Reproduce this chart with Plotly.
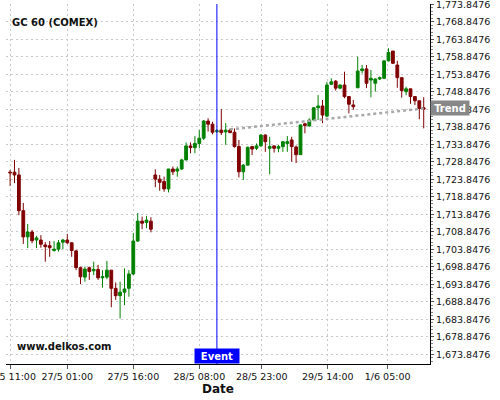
import plotly.graph_objects as go

# ---------------------------------------------------------------------------
# Hourly candles GC 60 (COMEX), in session order
# ---------------------------------------------------------------------------

opens = [1725.9, 1725.9, 1725.1, 1714.9, 1707.4, 1708.8, 1706.5, 1706.5, 1705.1, 1704.9,
         1703.5, 1703.9, 1705.9, 1706.5, 1705.7, 1703.4, 1698.6, 1695.9, 1698.6, 1697.7,
         1698.1, 1695.7, 1695.9, 1697.9, 1692.7, 1690.6, 1691.6, 1692.7, 1696.8, 1706.2,
         1711.9, 1711.5, 1711.9, 1725.1, 1723.9, 1723.2, 1721.1, 1726.8, 1726.2, 1726.8,
         1729.4, 1733.4, 1732.9, 1734.1, 1735.6, 1740.5, 1739.6, 1737.5, 1737.9, 1737.4,
         1737.9, 1737.3, 1733.2, 1726.0, 1727.9, 1733.2, 1732.7, 1733.4, 1736.5, 1732.7,
         1733.4, 1732.7, 1733.2, 1734.1, 1735.1, 1733.1, 1730.9, 1739.7, 1739.1, 1740.8,
         1744.3, 1744.8, 1741.9, 1751.0, 1751.9, 1749.9, 1750.8, 1747.5, 1745.1, 1750.0,
         1754.9, 1755.4, 1752.2, 1751.3, 1752.5, 1752.7, 1757.7, 1760.5, 1756.5, 1752.9,
         1748.9, 1749.7, 1747.5, 1746.3, 1744.3]

highs = [1726.5, 1729.4, 1727.1, 1717.1, 1711.1, 1709.4, 1707.7, 1707.9, 1705.9, 1706.2,
         1706.2, 1706.5, 1706.8, 1708.2, 1705.9, 1703.7, 1698.9, 1698.9, 1698.9, 1700.3,
         1699.4, 1697.9, 1700.5, 1697.9, 1694.4, 1694.6, 1698.4, 1697.9, 1708.5, 1714.2,
         1713.2, 1713.4, 1713.0, 1726.7, 1725.1, 1724.6, 1726.8, 1727.5, 1727.5, 1729.7,
         1734.4, 1734.4, 1736.2, 1737.9, 1740.8, 1741.3, 1740.3, 1738.2, 1743.9, 1739.9,
         1738.4, 1738.4, 1735.1, 1728.2, 1733.2, 1733.2, 1734.1, 1736.7, 1736.7, 1736.0,
         1733.5, 1733.7, 1734.8, 1736.2, 1736.0, 1733.5, 1739.4, 1740.0, 1741.3, 1744.4,
         1747.9, 1746.5, 1751.7, 1752.7, 1752.2, 1751.0, 1754.6, 1747.5, 1746.5, 1758.9,
         1756.5, 1756.5, 1755.1, 1752.7, 1753.2, 1757.7, 1761.3, 1760.5, 1757.7, 1752.9,
         1750.3, 1749.7, 1747.5, 1746.3, 1747.3]

lows = [1722.0, 1722.8, 1713.6, 1705.4, 1704.2, 1705.6, 1704.2, 1704.3, 1700.3, 1701.7,
        1703.2, 1703.2, 1703.9, 1705.4, 1701.7, 1697.9, 1693.9, 1694.6, 1695.1, 1696.5,
        1695.1, 1692.9, 1695.3, 1687.3, 1689.4, 1684.1, 1687.9, 1690.3, 1696.5, 1706.0,
        1709.6, 1709.9, 1708.7, 1721.6, 1720.6, 1720.3, 1720.1, 1725.1, 1724.6, 1726.5,
        1729.2, 1731.3, 1731.3, 1732.7, 1735.1, 1737.5, 1736.7, 1737.1, 1736.5, 1733.7,
        1737.0, 1732.9, 1724.4, 1723.7, 1727.9, 1730.8, 1732.2, 1733.2, 1731.7, 1725.3,
        1731.5, 1731.6, 1731.7, 1731.7, 1728.9, 1728.5, 1730.8, 1737.0, 1738.9, 1740.8,
        1740.8, 1739.9, 1741.7, 1750.8, 1749.2, 1749.6, 1747.0, 1742.7, 1743.7, 1750.0,
        1754.1, 1749.9, 1747.3, 1748.9, 1752.2, 1752.5, 1757.5, 1756.8, 1750.0, 1747.2,
        1747.9, 1745.4, 1745.1, 1741.0, 1738.4]

closes = [1725.7, 1725.1, 1714.9, 1707.4, 1708.8, 1706.3, 1707.1, 1705.3, 1704.6, 1704.3,
          1703.9, 1705.7, 1706.5, 1705.7, 1703.5, 1698.6, 1696.0, 1698.2, 1697.5, 1698.1,
          1695.7, 1696.0, 1697.9, 1692.7, 1690.6, 1691.6, 1692.5, 1696.8, 1706.2, 1711.9,
          1711.3, 1712.2, 1709.6, 1723.9, 1723.0, 1721.1, 1726.8, 1726.0, 1726.8, 1729.4,
          1733.4, 1732.9, 1734.1, 1735.6, 1740.5, 1739.6, 1737.3, 1737.7, 1737.2, 1737.9,
          1737.2, 1733.2, 1726.0, 1727.9, 1733.0, 1732.5, 1733.4, 1736.5, 1734.6, 1733.2,
          1732.7, 1733.2, 1734.6, 1734.6, 1733.2, 1730.9, 1739.4, 1739.2, 1740.8, 1744.3,
          1744.8, 1742.2, 1750.8, 1751.7, 1749.9, 1750.8, 1747.5, 1745.3, 1744.6, 1754.8,
          1755.4, 1751.3, 1752.7, 1752.5, 1752.9, 1757.7, 1760.1, 1757.0, 1752.9, 1749.2,
          1749.7, 1747.5, 1746.3, 1744.1, 1743.9]

candle_idx = list(range(len(opens)))

# x tick labels (candle index where each date label falls)
tick_pos = [0, 13, 28, 43, 57.2, 72.2, 85.8]
tick_labels = ["26/5 11:00", "27/5 01:00", "27/5 16:00", "28/5 08:00",
               "28/5 23:00", "29/5 14:00", "1/6 05:00"]

# price ticks every 5 from the base level
y_base = 1673.8476
y_ticks = [y_base + 5 * k for k in range(21)]
y_labels = [f"{v:,.4f}" for v in y_ticks]

event_idx = 47

trend_x = [50, 94]
trend_y = [1738.1, 1744.1]

FONT = "DejaVu Sans"
GREEN = "#008000"
RED = "#800000"
GRID = "#c8c8c8"
INK = "#111111"

fig = go.Figure()
fig.add_trace(go.Candlestick(
    x=candle_idx,
    open=opens,
    high=highs,
    low=lows,
    close=closes,
    increasing=dict(line=dict(color=GREEN, width=1), fillcolor=GREEN),
    decreasing=dict(line=dict(color=RED, width=1), fillcolor=RED),
    showlegend=False,
))
fig.add_trace(go.Scatter(
    x=trend_x,
    y=trend_y,
    mode="lines",
    line=dict(color="#a8a8a8", width=2.5, dash="dot"),
    showlegend=False,
    hoverinfo="skip",
))

# event marker
fig.add_shape(type="line", xref="x", yref="paper", x0=event_idx, x1=event_idx,
              y0=0, y1=1, line=dict(color="#0000ff", width=1))
fig.add_annotation(x=event_idx, xref="x", y=0, yref="paper", yanchor="bottom",
                   text="<b>Event</b>", showarrow=False, width=42, height=12, borderpad=1,
                   bgcolor="#0000ff", font=dict(family=FONT, size=10, color="white"))

fig.add_annotation(x=1, xref="paper", xanchor="left", y=trend_y[-1], yref="y",
                   text="<b>Trend</b>", showarrow=False, width=36, height=12, borderpad=1,
                   bgcolor="#888888", font=dict(family=FONT, size=10, color="white"))

fig.add_annotation(x=0.0094, xref="paper", xanchor="left", y=0.969, yref="paper",
                   text="<b>GC 60 (COMEX)</b>", showarrow=False,
                   font=dict(family=FONT, size=10, color=INK))
fig.add_annotation(x=0.021, xref="paper", xanchor="left", y=0.028, yref="paper",
                   text="<b>www.delkos.com</b>", showarrow=False,
                   font=dict(family=FONT, size=10, color=INK))

fig.update_layout(
    width=500,
    height=400,
    margin=dict(t=4, b=36, l=6, r=70),
    plot_bgcolor="white",
    paper_bgcolor="white",
    boxgap=0.1,
    font=dict(family=FONT, size=10, color=INK),
)
fig.update_xaxes(
    range=[-0.93, 95.43],
    automargin=False,
    rangeslider_visible=False,
    tickmode="array",
    tickvals=tick_pos,
    ticktext=tick_labels,
    ticklabeloverflow="allow",
    tickfont=dict(size=9.5),
    ticks="outside",
    ticklen=4,
    tickcolor="#555555",
    showline=True,
    linecolor="black",
    linewidth=1,
    showgrid=True,
    gridcolor=GRID,
    griddash="2px,3px",
    zeroline=False,
    title=dict(text="<b>Date</b>", font=dict(size=12, color=INK), standoff=2),
)
fig.update_yaxes(
    side="right",
    range=[1671.08, 1773.94],
    automargin=False,
    tickmode="array",
    tickvals=y_ticks,
    ticktext=y_labels,
    ticklabeloverflow="allow",
    tickfont=dict(size=9.5),
    ticks="outside",
    ticklen=3,
    tickcolor="#555555",
    minor=dict(tickmode="linear", tick0=y_base, dtick=1, ticks="outside", ticklen=2,
               tickcolor="#888888", showgrid=False),
    showline=True,
    linecolor="black",
    linewidth=1,
    showgrid=True,
    gridcolor=GRID,
    griddash="2px,3px",
    zeroline=False,
)

# the page body has a default 8px margin; drop it so the chart sits at the corner
fig.write_html("out.html", config={"displayModeBar": False},
               post_script="document.body.style.margin = '0';")
